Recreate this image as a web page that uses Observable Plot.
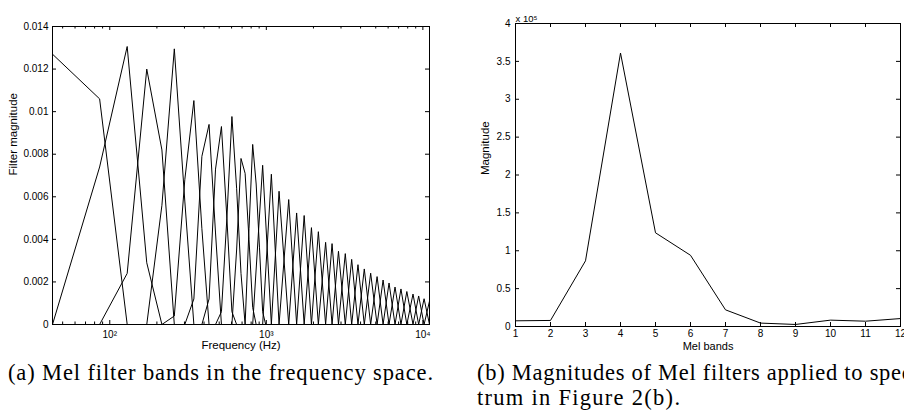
<!DOCTYPE html>
<html><head><meta charset="utf-8">
<script src="https://cdn.jsdelivr.net/npm/d3@7"></script>
<script src="https://cdn.jsdelivr.net/npm/@observablehq/plot@0.6"></script>
<style>
html,body{margin:0;padding:0;background:#fff}
body{width:904px;height:415px;overflow:hidden;position:relative}
#pa{position:absolute;left:0;top:0}
#pb{position:absolute;left:460px;top:0}
#caps{position:absolute;left:0;top:0}
</style></head><body>
<div id="pa"></div><div id="pb"></div>
<svg id="caps" width="904" height="415" style="pointer-events:none"></svg>
<script>
// ---------- Panel (a): Mel filter bands ----------
// Low bands, sampled at FFT bin frequencies: [Hz, magnitude]
const lowBandVertices = [
  [[43.07,0.0127],[86.13,0.0106],[129.2,0]],
  [[43.07,0],[86.13,0.0074],[129.2,0.01306],[172.3,0.0029],[215.3,0]],
  [[86.13,0],[129.2,0.0024],[172.3,0.0120],[215.3,0.0082],[258.4,0]],
  [[172.3,0],[215.3,0.0056],[258.4,0.01295],[301.5,0.0058],[344.5,0]],
  [[215.3,0],[258.4,0.0004],[301.5,0.0068],[344.5,0.01052],[387.6,0.0045],[430.7,0]],
  [[301.5,0],[344.5,0.0012],[387.6,0.0079],[430.7,0.0094],[473.7,0.0043],[516.8,0]],
  [[387.6,0],[430.7,0.0012],[473.7,0.0073],[516.8,0.0093],[559.9,0.0050],[602.9,0.0006],[646.0,0]],
  [[473.7,0],[516.8,0.0006],[559.9,0.0050],[602.9,0.00977],[646.0,0.0064],[689.1,0.0024],[732.1,0]],
  [[602.9,0],[646.0,0.0035],[689.1,0.0078],[732.1,0.0071],[775.2,0.0040],[818.3,0.0008],[861.3,0]],
  [[732.1,0],[775.2,0.0045],[818.3,0.00846],[861.3,0.0066],[904.4,0.0036],[947.5,0.0006],[990.5,0]]
];
// Higher bands: triangle corners (apex of neighbours) and apex heights
const triEdgesHz = [818.3, 947.5, 1077, 1206, 1390, 1562, 1745, 1942, 2150, 2392, 2630, 2890,
  3195, 3510, 3850, 4225, 4640, 5100, 5570, 6080, 6640, 7245, 7900, 8650, 9400, 10180, 11025, 11950];
const triApexMag = [0.00748, 0.00706, 0.00626, 0.00587, 0.00524, 0.00512, 0.00455, 0.00436,
  0.00386, 0.00380, 0.00344, 0.00333, 0.00306, 0.00281, 0.00261, 0.00241, 0.00225, 0.00209,
  0.00195, 0.00176, 0.00167, 0.00155, 0.00143, 0.00134, 0.00121, 0.00110];
const freqDomain = [43.07, 11025];
const magDomainA = [0, 0.014];
const xMajorTicks = [100, 1000, 10000];
const xMajorLabels = ["10\u00B2", "10\u00B3", "10\u2074"];
const xMinorTicks = [50,60,70,80,90,200,300,400,500,600,700,800,900,2000,3000,4000,5000,6000,7000,8000,9000];
const yTicksA = [0, 0.002, 0.004, 0.006, 0.008, 0.01, 0.012, 0.014];

// ---------- Panel (b): magnitudes per Mel band ----------
const melBands = [1,2,3,4,5,6,7,8,9,10,11,12];
const melMagnitudes = [7500, 8000, 86700, 361000, 123700, 94000, 22000, 4500, 2700, 8400, 7000, 10500];
const yTicksB = [0, 50000, 100000, 150000, 200000, 250000, 300000, 350000, 400000];

// build table
const rowsA = [];
lowBandVertices.forEach((pts, i) => pts.forEach(([hz, mag]) => rowsA.push({band: i, hz, mag})));
triApexMag.forEach((m, i) => {
  const b = lowBandVertices.length + i;
  rowsA.push({band: b, hz: triEdgesHz[i], mag: 0});
  rowsA.push({band: b, hz: triEdgesHz[i + 1], mag: m});
  rowsA.push({band: b, hz: triEdgesHz[i + 2], mag: 0});
});
const rowsB = melBands.map((b, i) => ({band: b, mag: melMagnitudes[i]}));

const sans = "'Liberation Sans', Arial, Helvetica, sans-serif";
const fhA = 298, fwA = 377;
const plotA = Plot.plot({
  width: 440, height: 360, marginLeft: 52, marginRight: 11, marginTop: 26, marginBottom: 36,
  style: {fontFamily: sans, fontSize: "10px", background: "white", color: "black", overflow: "visible"},
  x: {type: "log", domain: freqDomain},
  y: {domain: magDomainA},
  marks: [
    Plot.line(rowsA, {x: "hz", y: "mag", z: "band", stroke: "black", strokeWidth: 1, clip: true}),
    Plot.frame({stroke: "black", strokeWidth: 1}),
    Plot.tickX(xMajorTicks, {x: d => d, insetTop: fhA - 4, stroke: "black"}),
    Plot.tickX(xMajorTicks, {x: d => d, insetBottom: fhA - 4, stroke: "black"}),
    Plot.tickX(xMinorTicks, {x: d => d, insetTop: fhA - 2.5, stroke: "black"}),
    Plot.tickX(xMinorTicks, {x: d => d, insetBottom: fhA - 2.5, stroke: "black"}),
    Plot.tickY(yTicksA, {y: d => d, insetRight: fwA - 4, stroke: "black"}),
    Plot.tickY(yTicksA, {y: d => d, insetLeft: fwA - 4, stroke: "black"}),
    Plot.axisX({ticks: xMajorTicks, tickSize: 0, tickPadding: 6, label: null,
      tickFormat: d => xMajorLabels[xMajorTicks.indexOf(d)]}),
    Plot.axisY({ticks: yTicksA, tickSize: 0, tickPadding: 4, label: null, tickFormat: d => String(d)}),
    Plot.text(["Frequency (Hz)"], {text: d => d, frameAnchor: "bottom", dy: 24, fontSize: 11.5}),
    Plot.text(["Filter magnitude"], {text: d => d, frameAnchor: "left", dx: -39, rotate: -90, fontSize: 11.5})
  ]
});
document.getElementById("pa").appendChild(plotA);

const fhB = 303, fwB = 385;
const plotB = Plot.plot({
  width: 444, height: 361, marginLeft: 55, marginRight: 4, marginTop: 23, marginBottom: 35,
  style: {fontFamily: sans, fontSize: "10px", background: "white", color: "black", overflow: "visible"},
  x: {domain: [1, 12]},
  y: {domain: [0, 400000]},
  marks: [
    Plot.line(rowsB, {x: "band", y: "mag", stroke: "black", strokeWidth: 1}),
    Plot.frame({stroke: "black", strokeWidth: 1}),
    Plot.tickX(melBands, {x: d => d, insetTop: fhB - 4, stroke: "black"}),
    Plot.tickX(melBands, {x: d => d, insetBottom: fhB - 4, stroke: "black"}),
    Plot.tickY(yTicksB, {y: d => d, insetRight: fwB - 4, stroke: "black"}),
    Plot.tickY(yTicksB, {y: d => d, insetLeft: fwB - 4, stroke: "black"}),
    Plot.axisX({ticks: melBands, tickSize: 0, tickPadding: 3, label: null, tickFormat: d => String(d)}),
    Plot.axisY({ticks: yTicksB, tickSize: 0, tickPadding: 5, label: null, tickFormat: d => String(d / 1e5)}),
    Plot.text(["Mel bands"], {text: d => d, frameAnchor: "bottom", dy: 23, fontSize: 11}),
    Plot.text(["Magnitude"], {text: d => d, frameAnchor: "left", dx: -30, rotate: -90, fontSize: 11.5}),
    Plot.text(["x 10\u2075"], {text: d => d, frameAnchor: "top-left", textAnchor: "start", dy: -8, fontSize: 9.5})
  ]
});
document.getElementById("pb").appendChild(plotB);

// ---------- Captions ----------
const caps = d3.select("#caps");
const capStyle = s => s.attr("font-family", "'Liberation Serif', 'Times New Roman', serif")
  .attr("font-size", 22.5).attr("fill", "black").attr("lengthAdjust", "spacing");
caps.append("text").attr("x", 8).attr("y", 380).attr("textLength", 425)
  .text("(a) Mel filter bands in the frequency space.").call(capStyle);
caps.append("text").attr("x", 477).attr("y", 380).attr("textLength", 443)
  .text("(b) Magnitudes of Mel filters applied to spec-").call(capStyle);
caps.append("text").attr("x", 477).attr("y", 405).attr("textLength", 203)
  .text("trum in Figure 2(b).").call(capStyle);
</script>
</body></html>
